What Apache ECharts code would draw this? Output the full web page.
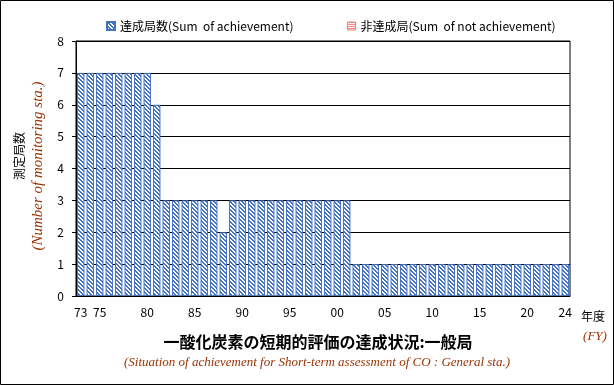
<!DOCTYPE html>
<html>
<head>
<meta charset="utf-8">
<script src="https://cdn.jsdelivr.net/npm/echarts@6/dist/echarts.min.js"></script>
<style>
  html, body { margin: 0; padding: 0; background: #fff; }
  #chart { width: 614px; height: 385px; }
</style>
</head>
<body>
<div id="chart"></div>
<script>
// fiscal years 1973 - 2024
var years = ['73','74','75','76','77','78','79','80','81','82','83','84','85','86','87','88','89',
  '90','91','92','93','94','95','96','97','98','99','00','01','02','03','04','05','06','07','08','09',
  '10','11','12','13','14','15','16','17','18','19','20','21','22','23','24'];
var achieved = [7,7,7,7,7,7,7,7,6,3,3,3,3,3,3,2,3,
  3,3,3,3,3,3,3,3,3,3,3,3,1,1,1,1,1,1,1,1,
  1,1,1,1,1,1,1,1,1,1,1,1,1,1,1];
var notAchieved = [0,0,0,0,0,0,0,0,0,0,0,0,0,0,0,0,0,
  0,0,0,0,0,0,0,0,0,0,0,0,0,0,0,0,0,0,0,0,
  0,0,0,0,0,0,0,0,0,0,0,0,0,0,0];
var shownLabels = ['73','75','80','85','90','95','00','05','10','15','20','24'];
var yTicks = [0, 8, 1];

var BLUE = '#4472c4';
var PINK = '#ff7c80';
var BROWN = '#993300';
var JP = '"Noto Sans CJK JP", "Noto Sans", sans-serif';

// downward diagonal hatch like the excel fill
function hatch(color) {
  var c = document.createElement('canvas');
  c.width = 4; c.height = 4;
  var ctx = c.getContext('2d');
  ctx.fillStyle = '#fff';
  ctx.fillRect(0, 0, 4, 4);
  ctx.fillStyle = color;
  for (var y = 0; y < 4; y++) {
    for (var x = 0; x < 4; x++) {
      if (((x - y) % 4 + 4) % 4 < 2) ctx.fillRect(x, y, 1, 1);
    }
  }
  return c;
}
function hstripes(color) {
  var c = document.createElement('canvas');
  c.width = 2; c.height = 2;
  var ctx = c.getContext('2d');
  ctx.fillStyle = '#fff';
  ctx.fillRect(0, 0, 2, 2);
  ctx.fillStyle = color;
  ctx.fillRect(0, 0, 2, 1);
  return c;
}

var chart = echarts.init(document.getElementById('chart'), null, { renderer: 'canvas' });

var option = {
  animation: false,
  backgroundColor: '#fff',
  textStyle: { fontFamily: JP },
  grid: {
    left: 76, right: 44, top: 41, bottom: 89,
    show: true, borderColor: '#000', borderWidth: 1
  },
  legend: [
    {
      left: 101, top: 15,
      itemWidth: 8, itemHeight: 8,
      textStyle: { fontSize: 12, color: '#000', fontFamily: JP },
      data: [{ name: '達成局数(Sum  of achievement)', icon: 'rect' }]
    },
    {
      left: 342, top: 15,
      itemWidth: 8, itemHeight: 8,
      textStyle: { fontSize: 12, color: '#000', fontFamily: JP },
      data: [{ name: '非達成局(Sum  of not achievement)', icon: 'rect',
        itemStyle: { color: { image: hstripes(PINK), repeat: 'repeat' }, borderColor: PINK, borderWidth: 1 } }]
    }
  ],
  xAxis: {
    type: 'category',
    data: years,
    boundaryGap: true,
    axisLine: { lineStyle: { color: '#000', width: 1 } },
    axisTick: { show: false },
    axisLabel: {
      interval: function (i, v) { return shownLabels.indexOf(v) >= 0; },
      color: '#000', fontSize: 12, margin: 10, fontFamily: JP
    },
    splitLine: { show: false }
  },
  yAxis: {
    type: 'value',
    min: yTicks[0], max: yTicks[1], interval: yTicks[2],
    axisLine: { show: true, lineStyle: { color: '#000', width: 1 } },
    axisTick: { show: true, length: 4, lineStyle: { color: '#000' } },
    axisLabel: { color: '#000', fontSize: 12, margin: 12, fontFamily: JP },
    splitLine: { show: true, lineStyle: { color: '#000', width: 1 } }
  },
  series: [
    {
      name: '達成局数(Sum  of achievement)',
      type: 'bar',
      stack: 'total',
      data: achieved,
      barCategoryGap: '22%',
      itemStyle: {
        color: { image: hatch(BLUE), repeat: 'repeat' },
        borderColor: BLUE, borderWidth: 1
      }
    },
    {
      name: '非達成局(Sum  of not achievement)',
      type: 'bar',
      stack: 'total',
      data: notAchieved,
      barCategoryGap: '22%',
      itemStyle: {
        color: { image: hstripes(PINK), repeat: 'repeat' },
        borderColor: PINK, borderWidth: 0
      }
    }
  ],
  graphic: [
    { type: 'rect', silent: true, z: 100,
      shape: { x: 0.5, y: 0.5, width: 613, height: 384 },
      style: { fill: 'none', stroke: '#000', lineWidth: 1 } },
    { type: 'text', x: 19, y: 156, rotation: Math.PI / 2,
      style: { text: '測定局数', fill: '#000', font: '12px ' + JP, align: 'center', verticalAlign: 'middle' } },
    { type: 'text', x: 38, y: 166, rotation: Math.PI / 2,
      style: { text: '(Number of monitoring sta.)', fill: BROWN,
        font: 'italic 15px "Liberation Serif", serif', align: 'center', verticalAlign: 'middle' } },
    { type: 'text', x: 593, y: 316,
      style: { text: '年度', fill: '#000', font: '12px ' + JP, align: 'center', verticalAlign: 'middle' } },
    { type: 'text', x: 595, y: 337,
      style: { text: '(FY)', fill: BROWN, font: 'italic 13px "Liberation Serif", serif', align: 'center', verticalAlign: 'middle' } },
    { type: 'text', x: 318, y: 342,
      style: { text: '一酸化炭素の短期的評価の達成状況:一般局', fill: '#000',
        font: 'bold 16px ' + JP, align: 'center', verticalAlign: 'middle' } },
    { type: 'text', x: 317, y: 363,
      style: { text: '(Situation of achievement for Short-term assessment of CO : General sta.)', fill: BROWN,
        font: 'italic 13px "Liberation Serif", serif', align: 'center', verticalAlign: 'middle' } }
  ]
};

chart.setOption(option);
</script>
</body>
</html>
